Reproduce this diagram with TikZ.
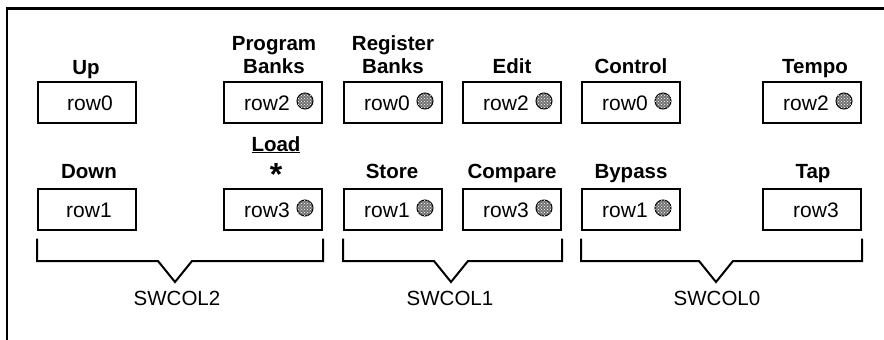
\documentclass[tikz,border=0pt]{standalone}
\usepackage{fontspec}
\setmainfont{Liberation Sans}
\usetikzlibrary{patterns,calc}
\begin{document}
\begin{tikzpicture}[x=1pt,y=-1pt,
  keybox/.style={draw,line width=2pt,minimum width=98pt,minimum height=40.5pt,anchor=north west,inner sep=0pt},
  rowtxt/.style={font=\fontsize{21}{23}\selectfont,anchor=base,inner sep=0pt},
  title/.style={font=\fontsize{20.5}{23}\selectfont\bfseries,anchor=base,align=center,inner sep=0pt},
  led/.style={circle,draw,line width=1pt,minimum size=16pt,inner sep=0pt,fill=black!55,
    postaction={pattern=crosshatch dots,pattern color=white}},
  colname/.style={font=\fontsize{20.5}{23}\selectfont,anchor=base,inner sep=0pt},
  brace/.style={line width=2pt}]
\useasboundingbox (0,0) rectangle (884,340);
% frame
\coordinate (fbl) at (7,340);
\coordinate (ftl) at (7,8.5);
\coordinate (ftr) at (884,8.5);
\draw[line width=2.2pt] (fbl) -- (ftl) -- (ftr);

% boxes row 0
\node[keybox] (up) at (37,81) {};
\node[keybox] (prog) at (223,81) {};
\node[keybox] (reg) at (343,81) {};
\node[keybox] (edit) at (462,81) {};
\node[keybox] (ctrl) at (581,81) {};
\node[keybox] (tempo) at (762,81) {};
% boxes row 1
\node[keybox] (down) at (37,188) {};
\node[keybox] (load) at (223,188) {};
\node[keybox] (store) at (343,188) {};
\node[keybox] (comp) at (462,188) {};
\node[keybox] (byp) at (581,188) {};
\node[keybox] (tap) at (762,188) {};

% texts in boxes
\node[rowtxt] (upt) at ($(up.north west)+(53,29)$) {row0};
\node[rowtxt] (progt) at ($(prog.north west)+(44,29)$) {row2};
\node[led] (progd) at ($(prog.north west)+(82,20)$) {};
\node[rowtxt] (regt) at ($(reg.north west)+(44,29)$) {row0};
\node[led] (regd) at ($(reg.north west)+(82,20)$) {};
\node[rowtxt] (editt) at ($(edit.north west)+(44,29)$) {row2};
\node[led] (editd) at ($(edit.north west)+(82,20)$) {};
\node[rowtxt] (ctrlt) at ($(ctrl.north west)+(44,29)$) {row0};
\node[led] (ctrld) at ($(ctrl.north west)+(82,20)$) {};
\node[rowtxt] (tempot) at ($(tempo.north west)+(44,29)$) {row2};
\node[led] (tempod) at ($(tempo.north west)+(82,20)$) {};

\node[rowtxt] (downt) at ($(down.north west)+(52,29)$) {row1};
\node[rowtxt] (loadt) at ($(load.north west)+(44,29)$) {row3};
\node[led] (loadd) at ($(load.north west)+(82,20)$) {};
\node[rowtxt] (storet) at ($(store.north west)+(44,29)$) {row1};
\node[led] (stored) at ($(store.north west)+(82,20)$) {};
\node[rowtxt] (compt) at ($(comp.north west)+(44,29)$) {row3};
\node[led] (compd) at ($(comp.north west)+(82,20)$) {};
\node[rowtxt] (bypt) at ($(byp.north west)+(44,29)$) {row1};
\node[led] (bypd) at ($(byp.north west)+(82,20)$) {};
\node[rowtxt] (tapt) at ($(tap.north west)+(54,29)$) {row3};

% titles
\node[title] (upl) at (86,74) {Up};
\node[title] (progl) at (274,73) {Program\\Banks};
\node[title] (regl) at (393,73) {Register\\Banks};
\node[title] (editl) at (512,73) {Edit};
\node[title] (ctrll) at (631,73) {Control};
\node[title] (tempol) at (815,73) {Tempo};
\node[title] (downl) at (89,178) {Down};
\node[title] (loadl) at (276,151) {\underline{Load}};
\node[font=\fontsize{32}{32}\selectfont\bfseries,inner sep=0pt] (loadstar) at (276,174) {*};
\node[title] (storel) at (392,178) {Store};
\node[title] (compl) at (512,178) {Compare};
\node[title] (bypl) at (631,178) {Bypass};
\node[title] (tapl) at (813,178) {Tap};

% brackets
\draw[brace] ($(down.south west)+(0,8)$) |- (158,261) -- (175,282) -- (192,261) -| ($(load.south east)+(0,8)$);
\draw[brace] ($(store.south west)+(0,8)$) |- (434,261) -- (451,282) -- (468,261) -| ($(comp.south east)+(0,8)$);
\draw[brace] ($(byp.south west)+(0,8)$) |- (699,261) -- (716,282) -- (733,261) -| ($(tap.south east)+(0,8)$);

\node[colname] (sw2) at (177,305) {SWCOL2};
\node[colname] (sw1) at (450,305) {SWCOL1};
\node[colname] (sw0) at (717,305) {SWCOL0};
\end{tikzpicture}
\end{document}
